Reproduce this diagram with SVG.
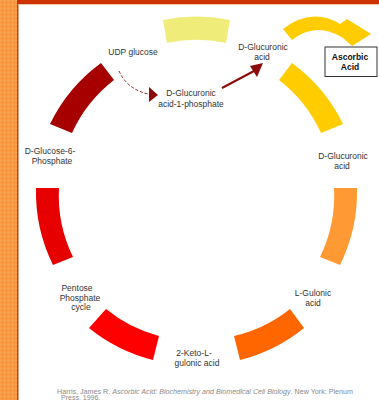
<svg xmlns="http://www.w3.org/2000/svg" width="379" height="400" viewBox="0 0 379 400">
<style>
.lbl{font-family:"Liberation Sans",Arial,sans-serif;font-size:8.5px;fill:#333;text-anchor:middle}
.bold{font-weight:bold;fill:#111}
.cite{font-family:"Liberation Sans",Arial,sans-serif;font-size:7px;fill:#8a8a8a}
.arw{fill:#8b0a0a}
</style>
<defs>
<pattern id="speck" width="4" height="4" patternUnits="userSpaceOnUse">
<rect width="4" height="4" fill="#fb9a40"/>
<rect x="0" y="0" width="1" height="1" fill="#f7b060"/>
<rect x="2" y="2" width="1" height="1" fill="#e98a30"/>
</pattern>
</defs>
<rect width="379" height="400" fill="#fff"/>
<rect x="0" y="0" width="17.5" height="400" fill="url(#speck)"/>
<rect x="17" y="0" width="1.5" height="400" fill="#b8460f"/>
<rect x="17" y="0" width="362" height="4" fill="#cc3300"/>
<rect x="18.5" y="4" width="360.5" height="1" fill="#f2c4a8"/>

<g id="udp-glucose">
<path d="M50 124 A165 165 0 0 1 101 63 L114 80 A140 140 0 0 0 72 133 Z" fill="#a60000"/>
<text class="lbl" x="133" y="55">UDP glucose</text>
</g>
<g id="glucuronic-1-phosphate">
<text class="lbl" x="191" y="96">D-Glucuronic</text>
<text class="lbl" x="191" y="106.5">acid-1-phosphate</text>
</g>
<g id="top-segment">
<path d="M163 20 A165 165 0 0 1 230 20 L226 43 A140 140 0 0 0 167 43 Z" fill="#efec7a"/>
</g>
<g id="glucuronic-acid-top">
<path d="M292 63 A165 165 0 0 1 343 124 L321 133 A140 140 0 0 0 279 80 Z" fill="#ffcc00"/>
<text class="lbl" x="263" y="50">D-Glucuronic</text>
<text class="lbl" x="262" y="59.5">acid</text>
</g>
<g id="ascorbic-acid">
<rect x="325" y="47" width="52" height="29.5" fill="#fff" stroke="#333" stroke-width="1"/>
<text class="lbl bold" x="350" y="60">Ascorbic</text>
<text class="lbl bold" x="350" y="69.5">Acid</text>
</g>
<g id="glucuronic-acid-right">
<path d="M357 188 A165 165 0 0 1 340 265 L320 257 A140 140 0 0 0 334 188 Z" fill="#ff9933"/>
<text class="lbl" x="343" y="159">D-Glucuronic</text>
<text class="lbl" x="342" y="168.5">acid</text>
</g>
<g id="l-gulonic-acid">
<path d="M304 328 A165 165 0 0 1 240 360 L234 336 A140 140 0 0 0 290 309 Z" fill="#ff6600"/>
<text class="lbl" x="313" y="296">L-Gulonic</text>
<text class="lbl" x="313" y="306">acid</text>
</g>
<g id="keto-gulonic-acid">
<path d="M153 360 A165 165 0 0 1 89 328 L106 309 A140 140 0 0 0 159 336 Z" fill="#ff0000"/>
<text class="lbl" x="194" y="356">2-Keto-L-</text>
<text class="lbl" x="197" y="366">gulonic acid</text>
</g>
<g id="pentose-phosphate">
<text class="lbl" x="77" y="291">Pentose</text>
<text class="lbl" x="80" y="301">Phosphate</text>
<text class="lbl" x="81" y="310">cycle</text>
</g>
<g id="glucose-6-phosphate">
<path d="M53 265 A165 165 0 0 1 36 188 L59 188 A140 140 0 0 0 73 257 Z" fill="#e60000"/>
<text class="lbl" x="50" y="154">D-Glucose-6-</text>
<text class="lbl" x="52" y="164">Phosphate</text>
</g>

<g id="connectors">
<path d="M119 71 Q127 89 148 94" fill="none" stroke="#8b1a1a" stroke-width="1" stroke-dasharray="3 2"/>
<polygon class="arw" points="149,87 149,102 158,95"/>
<line x1="222" y1="88" x2="254" y2="71" stroke="#8b0a0a" stroke-width="2"/>
<polygon class="arw" points="250,66 257,77 263,63"/>
<path d="M283 29 Q312 7 340 24 L347 19 L371 34 L352 46 L343 38 Q316 21 292 40 Z" fill="#ffcc00"/>
</g>

<g id="citation">
<text class="cite" x="57" y="394" textLength="296" lengthAdjust="spacingAndGlyphs">Harris, James R. <tspan font-style="italic">Ascorbic Acid: Biochemistry and Biomedical Cell Biology</tspan>. New York: Plenum</text>
<text class="cite" x="61" y="400">Press, 1996.</text>
</g>
</svg>
